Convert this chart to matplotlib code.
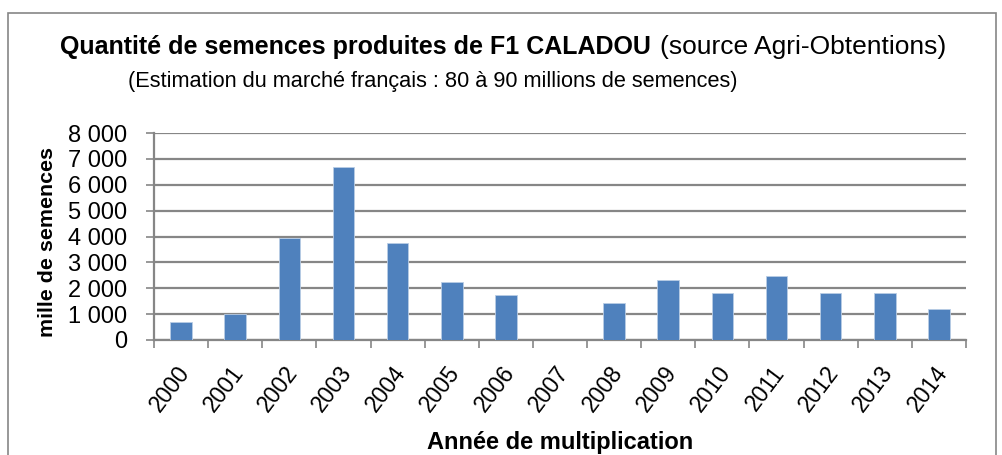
import numpy as np
import matplotlib.pyplot as plt
import matplotlib.transforms as mtransforms
from matplotlib.patches import Rectangle

years = ['2000', '2001', '2002', '2003', '2004', '2005', '2006', '2007',
         '2008', '2009', '2010', '2011', '2012', '2013', '2014']
seeds = [700, 1000, 3950, 6700, 3730, 2230, 1750, 0,
         1420, 2330, 1800, 2490, 1810, 1830, 1180]
yticks = [0, 1000, 2000, 3000, 4000, 5000, 6000, 7000, 8000]
ytick_labels = ['0', '1 000', '2 000', '3 000', '4 000', '5 000', '6 000', '7 000', '8 000']

plt.rcParams['font.family'] = ['Liberation Sans', 'DejaVu Sans']
grid_col = '#868686'

fig = plt.figure(figsize=(10.03, 4.55), dpi=100)
W, H = 1003, 455
ax = fig.add_axes((154 / W, 1 - 340 / H, (966 - 154) / W, (340 - 133) / H))

x = np.arange(len(years))
ax.bar(x, seeds, width=0.4, color='#4F81BD', edgecolor='#B9CDE5', linewidth=0.6, zorder=3)

ax.set_xlim(-0.5, len(years) - 0.5)
ax.set_ylim(0, 8000)
ax.set_yticks(yticks)
ax.set_yticklabels(ytick_labels, fontsize=17)
ax.yaxis.grid(True, color=grid_col, linewidth=1.6, zorder=0)
ax.tick_params(axis='y', length=6, width=1.2, color=grid_col, pad=13)

ax.set_xticks(x)
ax.set_xticklabels(years, fontsize=16.5, rotation=53, ha='right', va='center',
                   rotation_mode='anchor')
ax.tick_params(axis='x', which='major', length=0, pad=0)
shift = mtransforms.ScaledTranslation(0.04, -0.285, fig.dpi_scale_trans)
for lab in ax.get_xticklabels():
    lab.set_transform(lab.get_transform() + shift)
ax.set_xticks(np.arange(-0.5, len(years)), minor=True)
ax.tick_params(axis='x', which='minor', length=6, width=1.2, color=grid_col)

for s in ['top', 'right']:
    ax.spines[s].set_visible(False)
for s in ['left', 'bottom']:
    ax.spines[s].set_color(grid_col)
    ax.spines[s].set_linewidth(1.6)

fig.text(48 / W, 1 - 242 / H, 'mille de semences', fontsize=15.4, fontweight='bold',
         rotation=90, ha='center', va='center')
fig.text(560 / W, 1 - 442 / H, 'Année de multiplication', fontsize=17,
         fontweight='bold', ha='center', va='center')

# title made of a bold and a normal part
t1 = fig.text(60 / W, 1 - 47 / H, 'Quantité de semences produites de F1 CALADOU',
              fontsize=18, fontweight='bold', ha='left', va='center')
fig.canvas.draw()
bb = t1.get_window_extent()
fig.text(bb.x1 / W + 9 / W, 1 - 47 / H, '(source Agri-Obtentions)',
         fontsize=19, ha='left', va='center')
fig.text(128 / W, 1 - 81 / H, '(Estimation du marché français : 80 à 90 millions de semences)',
         fontsize=15.7, ha='left', va='center')

# chart border
fig.patches.append(Rectangle((8 / W, -0.05), 988 / W, 1 - 13 / H + 0.05,
                             transform=fig.transFigure, fill=False,
                             edgecolor=grid_col, linewidth=1.2))

fig.savefig('out.png', dpi=100)
